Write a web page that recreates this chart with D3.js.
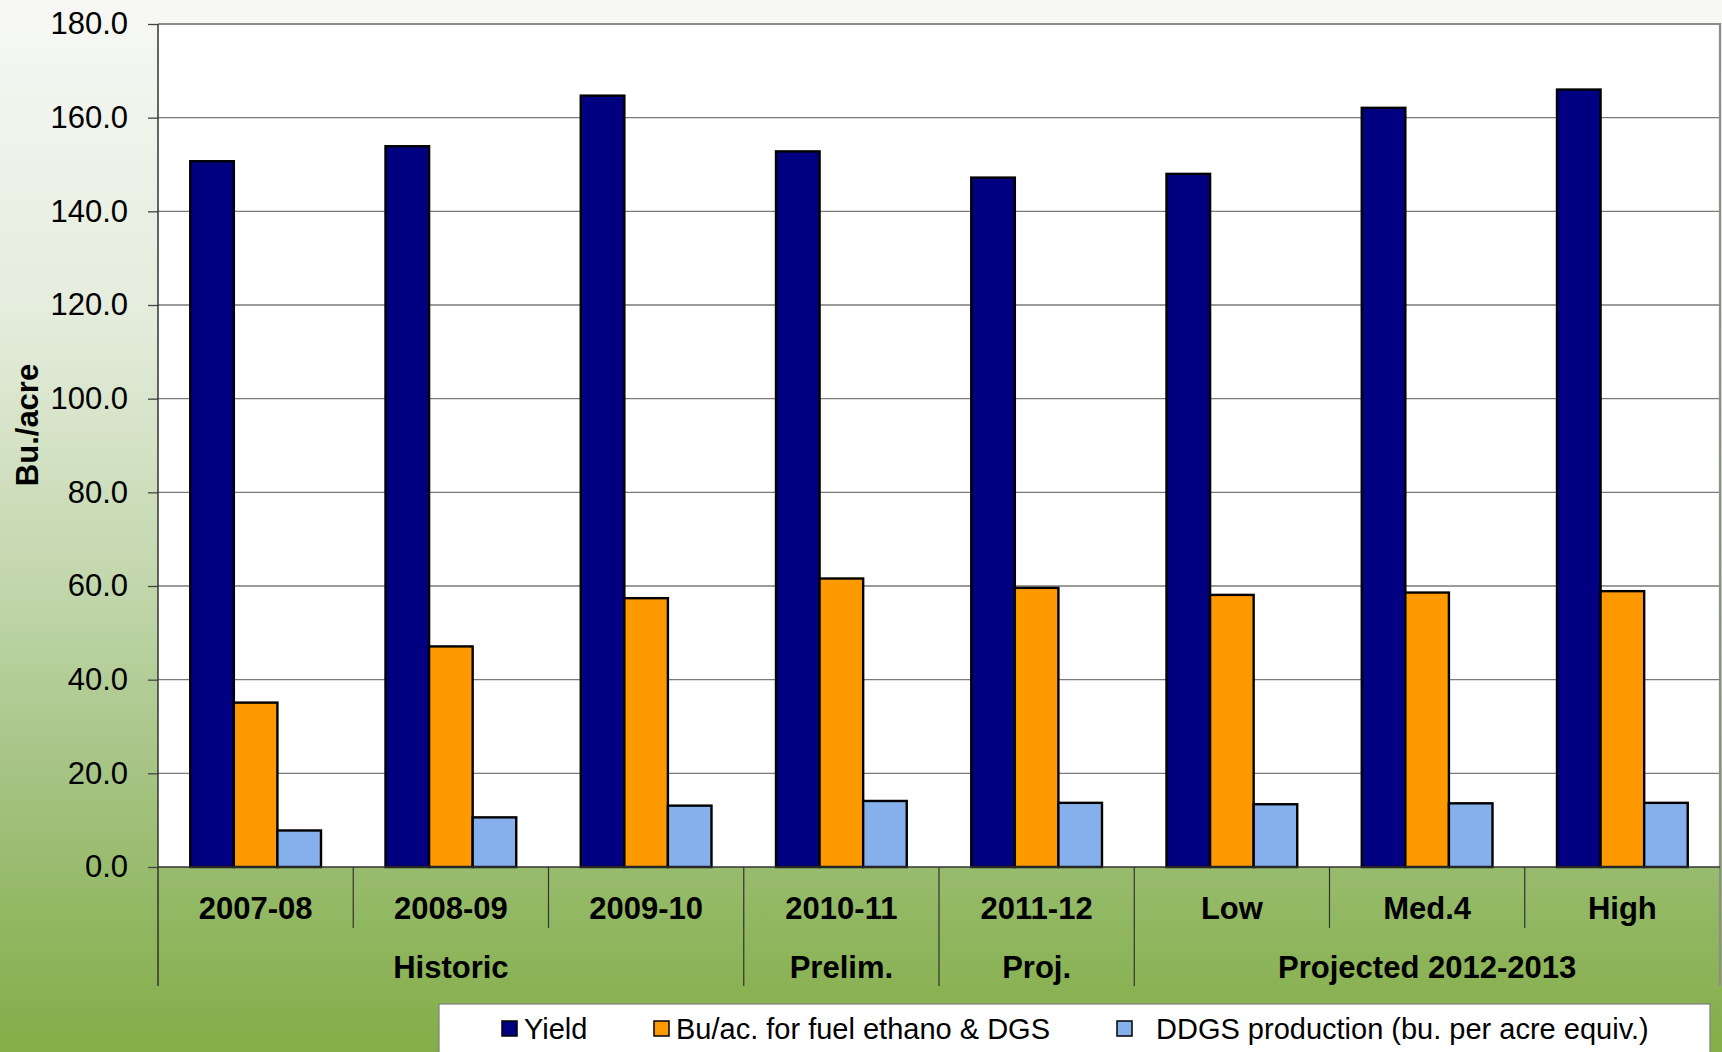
<!DOCTYPE html>
<html>
<head>
<meta charset="utf-8">
<script src="https://cdn.jsdelivr.net/npm/d3@7"></script>
<style>
  body { margin: 0; overflow: hidden; }
  svg text { font-family: "Liberation Sans", Arial, sans-serif; }
</style>
</head>
<body>
<div id="chart"></div>
<script>
// data
var categories = ['2007-08', '2008-09', '2009-10', '2010-11', '2011-12', 'Low', 'Med.4', 'High'];
var groups = [
  {label: 'Historic', from: 0, to: 2},
  {label: 'Prelim.', from: 3, to: 3},
  {label: 'Proj.', from: 4, to: 4},
  {label: 'Projected 2012-2013', from: 5, to: 7}
];
var seriesNames = ['Yield', 'Bu/ac. for fuel ethano & DGS', 'DDGS production (bu. per acre equiv.)'];
var yieldVals = [150.7, 153.9, 164.7, 152.8, 147.2, 148.0, 162.1, 166.0];
var ethanolVals = [35.1, 47.1, 57.4, 61.6, 59.6, 58.1, 58.6, 58.9];
var ddgsVals = [7.8, 10.6, 13.1, 14.1, 13.7, 13.4, 13.6, 13.7];
var yTicks = [0, 20, 40, 60, 80, 100, 120, 140, 160, 180];
var seriesColors = ['#000080', '#ff9900', '#86b0ec'];

var width = 1722, height = 1052;
// note: "top" is taken by window.top, so plot_* names
var plot_l = 158, plot_r = 1720, plot_t = 24, plot_b = 867, axis_end = 986;

var svg = d3.select('#chart')
  .append('svg')
  .attr('width', width)
  .attr('height', height);

// background gradient
var grad = svg.append('defs').append('linearGradient')
  .attr('id', 'bg')
  .attr('x1', 0).attr('y1', 0).attr('x2', 0).attr('y2', 1);
[[0, '#f7f8f5'], [0.3, '#e4ecdc'], [0.55, '#c3d7ad'], [0.75, '#a3c280'], [0.88, '#90b760'], [1, '#85ad48']]
  .forEach(function(s) {
    grad.append('stop').attr('offset', s[0]).attr('stop-color', s[1]);
  });

svg.append('rect')
  .attr('width', width)
  .attr('height', height)
  .attr('fill', 'url(#bg)');

var x0 = d3.scaleBand()
  .domain(categories)
  .range([plot_l, plot_r])
  .padding(0);

var x1 = d3.scaleBand()
  .domain(d3.range(3))
  .range([0, x0.bandwidth()])
  .paddingInner(0)
  .paddingOuter(0.74);

var y = d3.scaleLinear()
  .domain([0, 180])
  .range([plot_b, plot_t]);

// plot area
svg.append('rect')
  .attr('x', plot_l)
  .attr('y', plot_t)
  .attr('width', plot_r - plot_l)
  .attr('height', plot_b - plot_t)
  .attr('fill', 'white');

svg.append('g')
  .selectAll('line')
  .data(yTicks.slice(1, -1))
  .enter()
  .append('line')
  .attr('x1', plot_l).attr('x2', plot_r)
  .attr('y1', d => y(d)).attr('y2', d => y(d))
  .attr('stroke', '#7a7a7a')
  .attr('stroke-width', 1.3);

// top and right border
svg.append('path')
  .attr('d', 'M' + plot_l + ',' + y(180) + 'H' + plot_r + 'V' + axis_end)
  .attr('fill', 'none')
  .attr('stroke', '#8c8c8c')
  .attr('stroke-width', 2.2);

// bars
var rows = categories.map(function(c, i) {
  return {cat: c, vals: [yieldVals[i], ethanolVals[i], ddgsVals[i]]};
});

var barG = svg.append('g')
  .selectAll('g')
  .data(rows)
  .enter()
  .append('g')
  .attr('transform', d => 'translate(' + x0(d.cat) + ',0)');

barG.selectAll('rect')
  .data(d => d.vals)
  .enter()
  .append('rect')
  .attr('x', (d, i) => x1(i))
  .attr('y', d => y(d))
  .attr('width', x1.bandwidth())
  .attr('height', d => y(0) - y(d))
  .attr('fill', (d, i) => seriesColors[i])
  .attr('stroke', 'black')
  .attr('stroke-width', 2.4);

// y axis
var yAxis = d3.axisLeft(y)
  .tickValues(yTicks)
  .tickSize(10)
  .tickPadding(20)
  .tickFormat(d3.format('.1f'));

var yg = svg.append('g')
  .attr('transform', 'translate(' + plot_l + ',0)')
  .call(yAxis);
yg.select('.domain').remove();
yg.selectAll('.tick line').attr('stroke', '#444').attr('stroke-width', 1.3);
yg.selectAll('.tick text')
  .attr('fill', 'black')
  .style('font-size', '31px');

svg.append('line')
  .attr('x1', plot_l).attr('x2', plot_l)
  .attr('y1', plot_t).attr('y2', axis_end)
  .attr('stroke', '#333')
  .attr('stroke-width', 1.5);

// x axis baseline
svg.append('line')
  .attr('x1', plot_l).attr('x2', plot_r)
  .attr('y1', plot_b).attr('y2', plot_b)
  .attr('stroke', '#333')
  .attr('stroke-width', 1.5);

// category separators
var groupEdges = groups.map(g => g.from);
svg.append('g')
  .selectAll('line')
  .data(categories.slice(1))
  .enter()
  .append('line')
  .attr('x1', d => x0(d)).attr('x2', d => x0(d))
  .attr('y1', plot_b)
  .attr('y2', d => groupEdges.indexOf(categories.indexOf(d)) >= 0 ? axis_end : 928)
  .attr('stroke', '#333')
  .attr('stroke-width', 1.2);

svg.append('g')
  .selectAll('text')
  .data(categories)
  .enter()
  .append('text')
  .attr('x', d => x0(d) + x0.bandwidth() / 2)
  .attr('y', 908)
  .attr('dy', '0.35em')
  .attr('text-anchor', 'middle')
  .style('font-size', '31px')
  .style('font-weight', 'bold')
  .text(d => d);

svg.append('g')
  .selectAll('text')
  .data(groups)
  .enter()
  .append('text')
  .attr('x', d => (x0(categories[d.from]) + x0(categories[d.to]) + x0.bandwidth()) / 2)
  .attr('y', 967)
  .attr('dy', '0.35em')
  .attr('text-anchor', 'middle')
  .style('font-size', '31px')
  .style('font-weight', 'bold')
  .text(d => d.label);

// y title
svg.append('text')
  .attr('transform', 'translate(27,425) rotate(-90)')
  .attr('dy', '0.35em')
  .attr('text-anchor', 'middle')
  .style('font-size', '31px')
  .style('font-weight', 'bold')
  .text('Bu./acre');

// legend
var legend = svg.append('g');
legend.append('rect')
  .attr('x', 439).attr('y', 1004)
  .attr('width', 1271).attr('height', 60)
  .attr('fill', 'white')
  .attr('stroke', '#7f7f7f')
  .attr('stroke-width', 1.2);

var legendPos = [{sq: 502, tx: 524}, {sq: 654, tx: 676}, {sq: 1117, tx: 1156}];
var items = legend.selectAll('g')
  .data(seriesNames)
  .enter()
  .append('g');

items.append('rect')
  .attr('x', (d, i) => legendPos[i].sq)
  .attr('y', 1021)
  .attr('width', 15).attr('height', 15)
  .attr('fill', (d, i) => seriesColors[i])
  .attr('stroke', 'black')
  .attr('stroke-width', 1.5);

items.append('text')
  .attr('x', (d, i) => legendPos[i].tx)
  .attr('y', 1029)
  .attr('dy', '0.35em')
  .style('font-size', '29px')
  .text(d => d);
</script>
</body>
</html>
